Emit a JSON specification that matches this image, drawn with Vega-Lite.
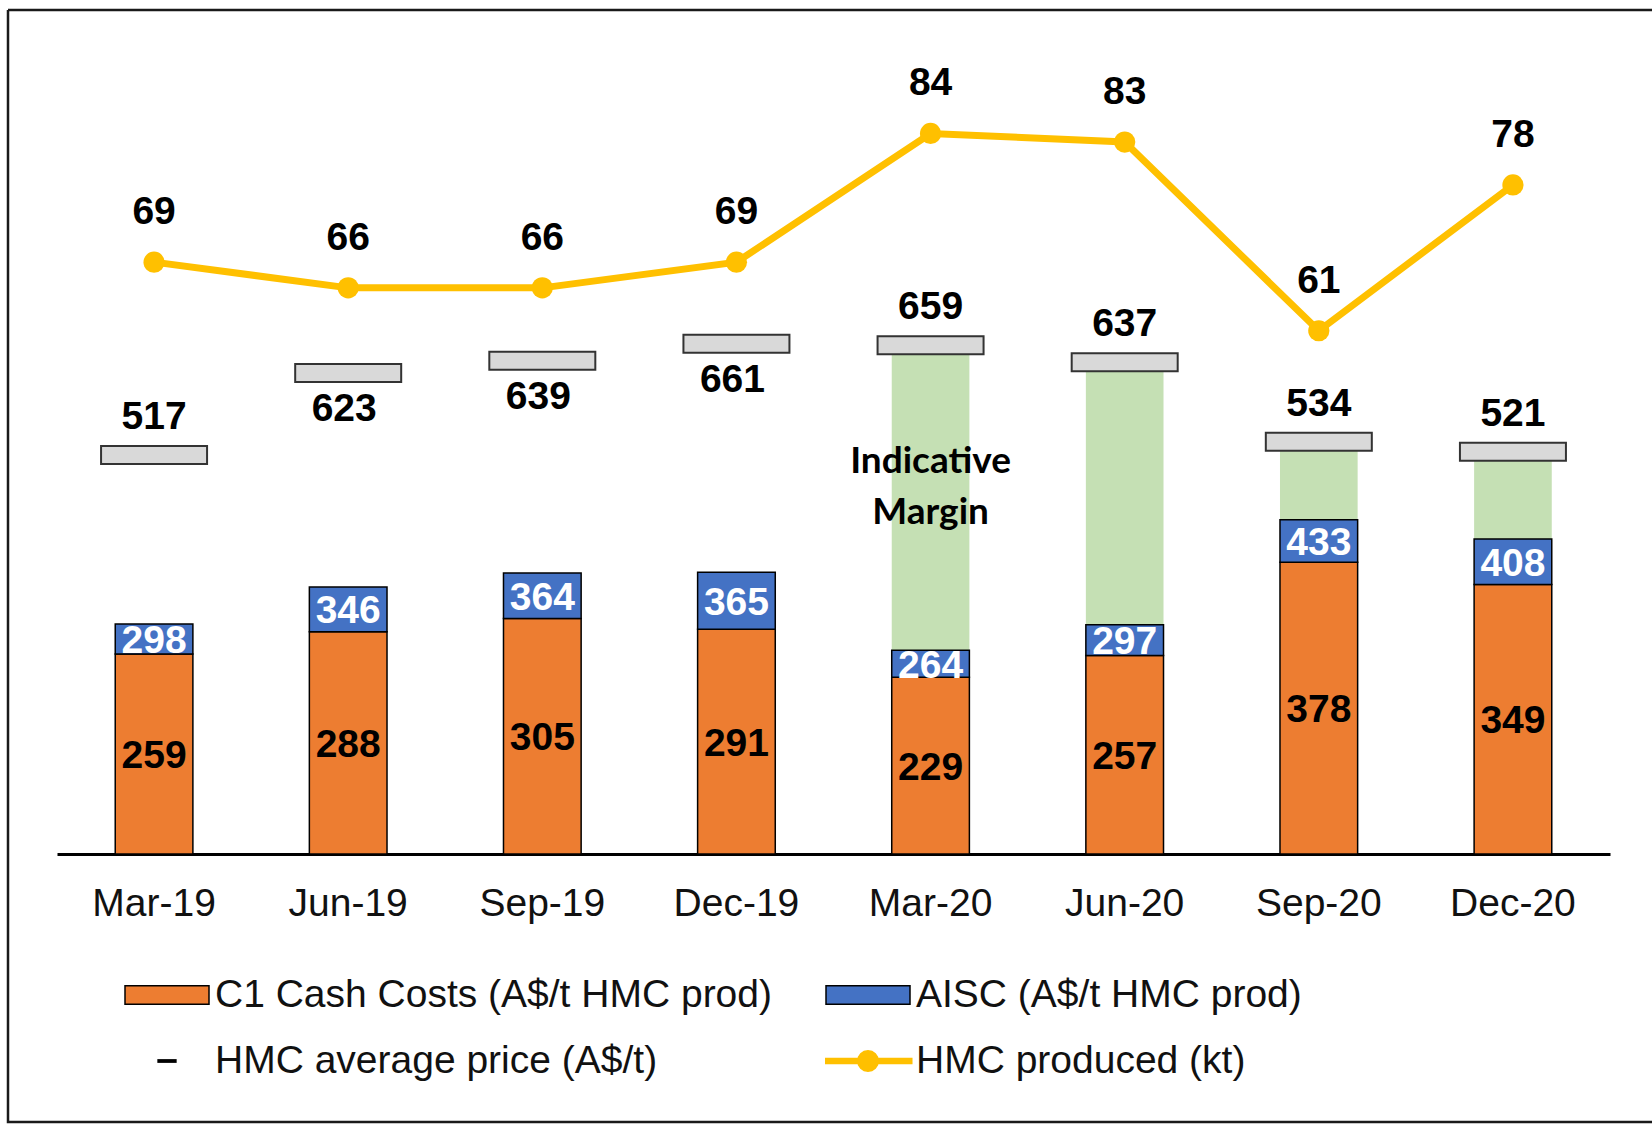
{
  "$schema": "https://vega.github.io/schema/vega-lite/v6.json",
  "width": 1644,
  "height": 1112,
  "autosize": {"type": "none"},
  "padding": {"left": 8, "top": 10, "right": 0, "bottom": 3},
  "background": "white",
  "config": {
    "font": "Liberation Sans",
    "view": {"stroke": "#1a1a1a", "strokeWidth": 2.5, "strokeDash": [1644, 1112, 2756, 0]}
  },
  "data": {"values": [
    {"q": "Mar-19", "c1": 259, "aisc": 298, "price": 517, "hmc": 69},
    {"q": "Jun-19", "c1": 288, "aisc": 346, "price": 623, "hmc": 66},
    {"q": "Sep-19", "c1": 305, "aisc": 364, "price": 639, "hmc": 66},
    {"q": "Dec-19", "c1": 291, "aisc": 365, "price": 661, "hmc": 69},
    {"q": "Mar-20", "c1": 229, "aisc": 264, "price": 659, "hmc": 84},
    {"q": "Jun-20", "c1": 257, "aisc": 297, "price": 637, "hmc": 83},
    {"q": "Sep-20", "c1": 378, "aisc": 433, "price": 534, "hmc": 61},
    {"q": "Dec-20", "c1": 349, "aisc": 408, "price": 521, "hmc": 78}
  ]},
  "encoding": {
    "x": {
      "field": "q", "type": "nominal", "sort": null,
      "scale": {"domain": ["Mar-19","Jun-19","Sep-19","Dec-19","Mar-20","Jun-20","Sep-20","Dec-20"], "range": [49, 1602], "paddingInner": 0.6, "paddingOuter": 0.3},
      "axis": {"title": null, "offset": -268, "domainColor": "#000", "domainWidth": 3, "ticks": false, "tickSize": 0, "labelFont": "Liberation Sans", "labelFontSize": 39, "labelColor": "#111", "labelPadding": 30, "labelAngle": 0, "grid": false}
    }
  },
  "layer": [
    {
      "layer": [
        {
          "transform": [{"filter": "indexof(datum.q, '-20') >= 0"}],
          "mark": {"type": "bar", "color": "#C5E0B4"},
          "encoding": {
            "y": {"field": "aisc", "type": "quantitative", "scale": {"domain": [0, 1000], "range": [844, 72]}, "axis": null},
            "y2": {"field": "price"}
          }
        },
        {
          "mark": {"type": "bar", "fill": "#ED7D31", "stroke": "#000", "strokeWidth": 1.5},
          "encoding": {
            "y": {"field": "c1", "type": "quantitative", "scale": {"domain": [0, 1000], "range": [844, 72]}, "axis": null}
          }
        },
        {
          "mark": {"type": "bar", "fill": "#4472C4", "stroke": "#000", "strokeWidth": 1.5},
          "encoding": {
            "y": {"field": "c1", "type": "quantitative", "scale": {"domain": [0, 1000], "range": [844, 72]}, "axis": null},
            "y2": {"field": "aisc"}
          }
        },
        {
          "mark": {"type": "tick", "size": 106, "thickness": 18, "fill": "#D9D9D9", "stroke": "#333333", "strokeWidth": 2, "opacity": 1},
          "encoding": {
            "y": {"field": "price", "type": "quantitative", "scale": {"domain": [0, 1000], "range": [844, 72]}, "axis": null}
          }
        },
        {
          "transform": [{"filter": "indexof(['Jun-19','Sep-19','Dec-19'], datum.q) < 0"}],
          "mark": {"type": "text", "fontSize": 39, "fontWeight": "bold", "baseline": "alphabetic", "dy": -26, "color": "#000"},
          "encoding": {
            "y": {"field": "price", "type": "quantitative", "scale": {"domain": [0, 1000], "range": [844, 72]}, "axis": null},
            "text": {"field": "price"}
          }
        },
        {
          "transform": [{"filter": "indexof(['Jun-19','Sep-19','Dec-19'], datum.q) >= 0"}],
          "mark": {"type": "text", "fontSize": 39, "fontWeight": "bold", "baseline": "alphabetic", "dy": 48, "dx": -4, "color": "#000"},
          "encoding": {
            "y": {"field": "price", "type": "quantitative", "scale": {"domain": [0, 1000], "range": [844, 72]}, "axis": null},
            "text": {"field": "price"}
          }
        },
        {
          "transform": [
            {"fold": ["c1", "aisc"], "as": ["k", "v"]},
            {"aggregate": [{"op": "mean", "field": "v", "as": "mid"}], "groupby": ["q", "aisc"]}
          ],
          "mark": {"type": "text", "fontSize": 39, "fontWeight": "bold", "baseline": "middle", "dy": 2, "color": "#FFFFFF"},
          "encoding": {
            "y": {"field": "mid", "type": "quantitative", "scale": {"domain": [0, 1000], "range": [844, 72]}, "axis": null},
            "text": {"field": "aisc"}
          }
        },
        {
          "transform": [
            {"stack": "c1", "groupby": ["q"], "as": ["c1s0", "c1s1"]},
            {"fold": ["c1s0", "c1s1"], "as": ["k", "v"]},
            {"aggregate": [{"op": "mean", "field": "v", "as": "mid"}], "groupby": ["q", "c1"]}
          ],
          "mark": {"type": "text", "fontSize": 39, "fontWeight": "bold", "baseline": "middle", "dy": 2, "color": "#000"},
          "encoding": {
            "y": {"field": "mid", "type": "quantitative", "scale": {"domain": [0, 1000], "range": [844, 72]}, "axis": null},
            "text": {"field": "c1"}
          }
        },
        {
          "transform": [{"filter": "datum.q == 'Mar-20'"}],
          "mark": {"type": "text", "text": ["Indicative", "Margin"], "font": "Lato", "fontSize": 37, "fontWeight": "bold", "lineHeight": 51, "baseline": "alphabetic", "align": "center", "color": "#000"},
          "encoding": {
            "y": {"datum": 493, "type": "quantitative", "scale": {"domain": [0, 1000], "range": [844, 72]}, "axis": null}
          }
        }
      ]
    },
    {
      "layer": [
        {
          "mark": {"type": "line", "color": "#FFC000", "strokeWidth": 7},
          "encoding": {
            "y": {"field": "hmc", "type": "quantitative", "scale": {"domain": [0, 90], "range": [844, 72]}, "axis": null}
          }
        },
        {
          "mark": {"type": "circle", "color": "#FFC000", "size": 450, "opacity": 1},
          "encoding": {
            "y": {"field": "hmc", "type": "quantitative", "scale": {"domain": [0, 90], "range": [844, 72]}, "axis": null}
          }
        },
        {
          "mark": {"type": "text", "fontSize": 39, "fontWeight": "bold", "baseline": "alphabetic", "dy": -38, "color": "#000"},
          "encoding": {
            "y": {"field": "hmc", "type": "quantitative", "scale": {"domain": [0, 90], "range": [844, 72]}, "axis": null},
            "text": {"field": "hmc"}
          }
        }
      ]
    },
    {
      "transform": [{"filter": "false"}],
      "mark": {"type": "point", "filled": true, "strokeWidth": 1.5, "opacity": 1},
      "encoding": {
        "color": {
          "field": "series", "type": "nominal",
          "scale": {"domain": ["C1 Cash Costs (A$/t HMC prod)", "AISC (A$/t HMC prod)", "HMC average price (A$/t)", "HMC produced (kt)"], "range": ["#ED7D31", "#4472C4", "#000000", "#FFC000"]},
          "legend": {
            "title": null, "orient": "none", "legendX": 116, "legendY": 965, "columns": 2, "direction": "horizontal",
            "symbolSize": 7056, "symbolStrokeWidth": 1.5, "symbolOpacity": 1, "clipHeight": 40, "rowPadding": 26, "columnPadding": 53,
            "labelFont": "Liberation Sans", "labelFontSize": 39, "labelColor": "#111", "labelOffset": 5, "labelLimit": 1000, "padding": 0
          }
        },
        "shape": {
          "field": "series", "type": "nominal",
          "scale": {"domain": ["C1 Cash Costs (A$/t HMC prod)", "AISC (A$/t HMC prod)", "HMC average price (A$/t)", "HMC produced (kt)"], "range": ["M-1,-0.22H1V0.22H-1Z", "M-1,-0.22H1V0.22H-1Z", "M-0.23,-0.045H0.23V0.045H-0.23Z", "M-1.06,-0.08H1.06V0.08H-1.06Z M0.262,0L0.242,0.1L0.185,0.185L0.1,0.242L0,0.262L-0.1,0.242L-0.185,0.185L-0.242,0.1L-0.262,0L-0.242,-0.1L-0.185,-0.185L-0.1,-0.242L0,-0.262L0.1,-0.242L0.185,-0.185L0.242,-0.1Z"]},
          "legend": {
            "title": null, "orient": "none", "legendX": 116, "legendY": 965, "columns": 2, "direction": "horizontal",
            "symbolSize": 7056, "symbolStrokeWidth": 1.5, "symbolOpacity": 1, "clipHeight": 40, "rowPadding": 26, "columnPadding": 53,
            "labelFont": "Liberation Sans", "labelFontSize": 39, "labelColor": "#111", "labelOffset": 5, "labelLimit": 1000, "padding": 0
          }
        },
        "stroke": {
          "field": "series", "type": "nominal",
          "scale": {"domain": ["C1 Cash Costs (A$/t HMC prod)", "AISC (A$/t HMC prod)", "HMC average price (A$/t)", "HMC produced (kt)"], "range": ["#000000", "#000000", "transparent", "transparent"]},
          "legend": {
            "title": null, "orient": "none", "legendX": 116, "legendY": 965, "columns": 2, "direction": "horizontal",
            "symbolSize": 7056, "symbolStrokeWidth": 1.5, "symbolOpacity": 1, "clipHeight": 40, "rowPadding": 26, "columnPadding": 53,
            "labelFont": "Liberation Sans", "labelFontSize": 39, "labelColor": "#111", "labelOffset": 5, "labelLimit": 1000, "padding": 0
          }
        }
      }
    }
  ],
  "resolve": {"scale": {"y": "independent"}}
}
